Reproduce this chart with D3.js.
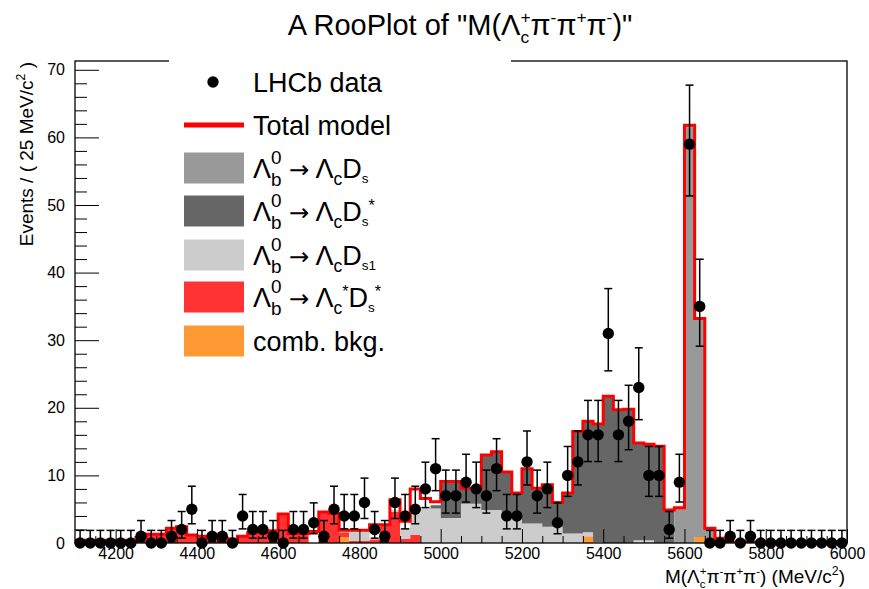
<!DOCTYPE html>
<html><head><meta charset="utf-8">
<script src="https://cdn.jsdelivr.net/npm/d3@7"></script>
<style>
body{margin:0;background:#fff}
svg{display:block}
text{font-family:"Liberation Sans",Arial,Helvetica,sans-serif;white-space:pre}
</style>
</head><body>
<svg id="c" width="869" height="589"></svg>
<script>
// ---------------- data ----------------
const binWidth = 25;
const binLow = d3.range(4100, 6000, binWidth);      // 76 bins, 4100..6000 MeV/c^2

const dataCounts = [
  0,0,0,0,0,0,1,0,0,1,
  2,5,0,1,1,0,4,2,2,1,
  0,2,2,3,1,5,4,4,6,2,
  1,6,4,5,8,11,7,7,9,8,
  7,11,4,4,12,7,8,3,10,12,
  16,16,31,16,18,23,10,10,2,9,
  59,35,0,0,1,0,1,0,0,0,
  0,0,0,0,0,0];

const totalModel = [
  0.4,0.4,0.4,0.4,0.4,0.4,0.8,1.3,1.3,2.2,
  2.4,1.2,1.0,0.7,0.7,0.6,1.0,1.5,1.5,1.8,
  4.3,1.4,1.4,1.7,4.6,4.4,1.9,1.9,1.9,2.7,
  2.7,6.4,3.2,8.0,6.6,6.1,9.1,9.1,8.1,8.1,
  13.0,13.5,10.5,7.4,11.0,8.1,8.6,6.0,7.4,16.5,
  18.0,17.6,21.7,19.7,19.8,14.8,14.6,14.3,4.9,5.2,
  61.8,33.2,2.2,0.7,0.1,0.1,0.1,0.1,0.1,0.1,
  0.1,0.1,0.1,0.1,0.1,0.1];

const combBkg = [
  0,0,0,0,0,0,0,0,0,0,
  0,0,0,0,0,0,0,0,0,0,
  0,0,0,0,0,0,0.9,0,0,0,
  0,0,0,0,0,0,0,0,0,0,
  0,0,0,0,0,0,0,0,0,0,
  1.0,0,0,0,0,0,0,0,0,0,
  0,0.9,0,0,0,0,0,0,0,0,
  0,0,0,0,0,0];

const lcStarDsStar = [
  0.4,0.4,0.4,0.4,0.4,0.4,0.8,1.3,1.3,2.2,
  2.4,1.2,1.0,0.7,0.7,0.6,1.0,1.5,1.5,1.8,
  4.3,1.4,1.4,0,4.6,4.4,0.7,0.3,0.3,0.5,
  2.5,4.6,0.6,1.2,0,0,0,0,0,0,
  0,0,0,0,0,0,0,0,0,0,
  0,0,0,0,0,0,0,0,0,0,
  0,0,0,0,0,0,0,0,0,0,
  0,0,0,0,0,0];

const lcDs1 = [
  0,0,0,0,0,0,0,0,0,0,
  0,0,0,0,0,0,0,0,0,0,
  0,0,0,0,0,0,0.3,1.5,1.5,0,
  0,0.3,1.6,4.0,5.1,5.1,3.7,3.7,5.8,5.8,
  4.9,4.9,3.9,3.9,2.9,2.9,2.4,2.4,1.4,1.4,
  0.6,0.1,0,0,0,0.4,0.4,0,0,0,
  0,0,0,0,0,0,0,0,0,0,
  0,0,0,0,0,0];

const lcDsStar = [
  0,0,0,0,0,0,0,0,0,0,
  0,0,0,0,0,0,0,0,0,0,
  0,0,0,0,0,0,0,0,0,0,
  0,0,0,0,0,0.5,5.4,5.4,2.3,2.3,
  8.1,8.6,6.6,3.5,8.1,5.2,6.2,3.6,6.0,15.1,
  16.4,17.5,21.7,19.7,19.8,14.4,14.2,14.3,4.9,0,
  0,0,0,0,0,0,0,0,0,0,
  0,0,0,0,0,0];

const lcDs = [
  0,0,0,0,0,0,0,0,0,0,
  0,0,0,0,0,0,0,0,0,0,
  0,0,0,0,0,0,0,0,0,0,
  0,0,0,0,0,0,0,0,0,0,
  0,0,0,0,0,0,0,0,0,0,
  0,0,0,0,0,0,0,0,0,5.2,
  61.8,32.3,2.2,0.7,0,0,0,0,0,0,
  0,0,0,0,0,0];

const yMajorTicks = [0,10,20,30,40,50,60,70];
const xMajorTicks = [4200,4400,4600,4800,5000,5200,5400,5600,5800,6000];

// ---------------- setup ----------------
const W = 869, H = 589;
const M = {l:75, r:847, t:61, b:543};
const svg = d3.select("#c");
svg.append("rect").attr("width", W).attr("height", H).attr("fill", "#fff");

const x = d3.scaleLinear().domain([4100, 6000]).range([M.l, M.r]);
const y = d3.scaleLinear().domain([0, 71.3]).range([M.b, M.t]);

svg.append("defs").append("clipPath").attr("id", "clip")
  .append("rect").attr("x", M.l).attr("y", M.t).attr("width", M.r - M.l).attr("height", M.b - M.t);

// ---------------- stacked components ----------------
const keys = ["comb", "lcstar", "ds1", "dsstar", "ds"];
const colors = {comb:"#ff9933", lcstar:"#ff3333", ds1:"#cccccc", dsstar:"#666666", ds:"#999999"};
const rows = binLow.map((b, i) => ({
  comb: combBkg[i], lcstar: lcStarDsStar[i], ds1: lcDs1[i], dsstar: lcDsStar[i], ds: lcDs[i]
}));
const stacked = d3.stack().keys(keys)(rows);
const plot = svg.append("g").attr("clip-path", "url(#clip)");

const areaGen = d3.area().x(p => x(p.x)).y0(p => y(p.y0)).y1(p => y(p.y1)).curve(d3.curveStepAfter);
stacked.forEach(layer => {
  const pts = layer.map((d, i) => ({x: binLow[i], y0: d[0], y1: d[1]}));
  const last = pts[pts.length - 1];
  pts.push({x: last.x + binWidth, y0: last.y0, y1: last.y1});
  plot.append("path").attr("d", areaGen(pts)).attr("fill", colors[layer.key]).attr("stroke", "none");
});

// total model line
const linePts = binLow.map((b, i) => ({x: b, v: totalModel[i]}));
linePts.unshift({x: binLow[0], v: 0});
linePts.push({x: binLow[binLow.length - 1] + binWidth, v: totalModel[totalModel.length - 1]});
plot.append("path")
  .attr("d", d3.line().x(p => x(p.x)).y(p => y(p.v)).curve(d3.curveStepAfter)(linePts))
  .attr("fill", "none").attr("stroke", "#ff0000").attr("stroke-width", 3);

// ---------------- axes ----------------
function styleAxis(g) {
  g.select(".domain").remove();
  g.selectAll(".tick line").attr("stroke", "#000").attr("stroke-width", 1);
  g.selectAll("text").attr("font-size", 16).attr("fill", "#000");
}
svg.append("g").attr("transform", `translate(${M.l},0)`)
  .call(d3.axisLeft(y).tickValues(d3.range(0, 71, 2).filter(v => v % 10 !== 0)).tickSize(-12).tickFormat(""))
  .call(styleAxis);
svg.append("g").attr("transform", `translate(${M.l},0)`)
  .call(d3.axisLeft(y).tickValues(yMajorTicks).tickSize(-24).tickPadding(10).tickFormat(d3.format("d")))
  .call(styleAxis);
svg.append("g").attr("transform", `translate(0,${M.b})`)
  .call(d3.axisBottom(x).tickValues(d3.range(4150, 6000, 50).filter(v => v % 200 !== 0)).tickSize(-7).tickFormat(""))
  .call(styleAxis);
svg.append("g").attr("transform", `translate(0,${M.b})`)
  .call(d3.axisBottom(x).tickValues(xMajorTicks).tickSize(-14).tickPadding(5).tickFormat(d3.format("d")))
  .call(styleAxis);

// frame
svg.append("rect").attr("x", M.l).attr("y", M.t).attr("width", M.r - M.l).attr("height", M.b - M.t)
  .attr("fill", "none").attr("stroke", "#000").attr("stroke-width", 1.3);

// ---------------- data points ----------------
function poisUp(n) { return n + Math.sqrt(n + 0.75) + 1; }
function poisLo(n) { if (n === 0) return 0; const t = 1 - 1/(9*n) - 1/(3*Math.sqrt(n)); return n*t*t*t; }
const pts = svg.append("g");
dataCounts.forEach((n, i) => {
  const cx = x(binLow[i] + binWidth/2);
  const yu = y(poisUp(n)), yl = y(poisLo(n)), yc = y(n);
  pts.append("line").attr("x1", cx).attr("x2", cx).attr("y1", yu).attr("y2", yl).attr("stroke", "#000").attr("stroke-width", 1.5);
  pts.append("line").attr("x1", cx - 4).attr("x2", cx + 4).attr("y1", yu).attr("y2", yu).attr("stroke", "#000").attr("stroke-width", 1.5);
  if (n > 0) pts.append("line").attr("x1", cx - 4).attr("x2", cx + 4).attr("y1", yl).attr("y2", yl).attr("stroke", "#000").attr("stroke-width", 1.5);
  pts.append("circle").attr("cx", cx).attr("cy", yc).attr("r", 5.7).attr("fill", "#000");
});

// ---------------- latex-ish text helper ----------------
function latex(parent, x0, y0, parts, size, anchor, rot) {
  const g = parent.append("g").attr("transform", `translate(${x0},${y0})` + (rot ? ` rotate(${rot})` : ""));
  const inner = g.append("g");
  let cx = 0;
  const mk = (t, dy, fs, fam) => {
    const el = inner.append("text").attr("x", cx).attr("y", dy).attr("font-size", fs).attr("fill", "#000").text(t);
    if (fam) el.style("font-family", fam);
    return el.node().getComputedTextLength();
  };
  parts.forEach(p => {
    if (typeof p === "string") { cx += mk(p, 0, size); }
    else if (p.arrow) { cx += mk(p.arrow, 0, size * (p.scale || 1), "'DejaVu Sans'"); }
    else {
      const ss = size * (p.scale || 0.65);
      let w = 0;
      if (p.sub != null) w = Math.max(w, mk(p.sub, size * (p.subDy != null ? p.subDy : 0.28), ss));
      if (p.sup != null) w = Math.max(w, mk(p.sup, -size * (p.supDy != null ? p.supDy : 0.42), ss));
      cx += w + (p.gap || 0);
    }
  });
  const shift = anchor === "end" ? -cx : anchor === "middle" ? -cx / 2 : 0;
  inner.attr("transform", `translate(${shift},0)`);
  return cx;
}

// ---------------- legend ----------------
const leg = svg.append("g");
leg.append("rect").attr("x", 169).attr("y", 50).attr("width", 342).attr("height", 318).attr("fill", "#fff");
const legFs = 27, legTx = 253;
leg.append("circle").attr("cx", 213).attr("cy", 82).attr("r", 5.7).attr("fill", "#000");
latex(leg, legTx, 92, ["LHCb data"], legFs);
leg.append("line").attr("x1", 184).attr("x2", 244).attr("y1", 125).attr("y2", 125).attr("stroke", "#ff0000").attr("stroke-width", 5);
latex(leg, legTx, 135, ["Total model"], legFs);

const lb = ["Λ", {sub: "b", sup: "0", scale: 0.7, supDy: 0.5, subDy: 0.3}, " ", {arrow: "→", scale: 0.9}, " Λ", {sub: "c", scale: 0.65}];
const legendRows = [
  {key: "ds",     y: 168, parts: lb.concat(["D", {sub: "s", scale: 0.5, subDy: 0.2, gap: 2}])},
  {key: "dsstar", y: 211, parts: lb.concat(["D", {sub: "s", scale: 0.5, subDy: 0.2}, {sup: "*", scale: 0.6, supDy: 0.35}])},
  {key: "ds1",    y: 255, parts: lb.concat(["D", {sub: "s1", scale: 0.5, subDy: 0.2}])},
  {key: "lcstar", y: 297, parts: ["Λ", {sub: "b", sup: "0", scale: 0.7, supDy: 0.5, subDy: 0.3}, " ", {arrow: "→", scale: 0.9}, " Λ", {sub: "c", scale: 0.65}, {sup: "*", scale: 0.6, supDy: 0.35}, "D", {sub: "s", scale: 0.5, subDy: 0.2}, {sup: "*", scale: 0.6, supDy: 0.35}]},
  {key: "comb",   y: 341, parts: ["comb. bkg."]}
];
legendRows.forEach(r => {
  leg.append("rect").attr("x", 184).attr("y", r.y - 15.5).attr("width", 60).attr("height", 31).attr("fill", colors[r.key]);
  latex(leg, legTx, r.y + 9.5, r.parts, legFs);
});

// ---------------- titles ----------------
latex(svg, 460, 35, ['A RooPlot of "M(', "Λ", {sub: "c", sup: "+", scale: 0.6}, "π", {sup: "-", scale: 0.6}, "π", {sup: "+", scale: 0.6}, "π", {sup: "-", scale: 0.6}, ')"'], 29, "middle");
latex(svg, 845, 583, ["M(Λ", {sub: "c", sup: "+", scale: 0.6}, "π", {sup: "-", scale: 0.6}, "π", {sup: "+", scale: 0.6}, "π", {sup: "-", scale: 0.6}, ") (MeV/c", {sup: "2", scale: 0.65}, ")"], 19, "end");
latex(svg, 33, 62, ["Events / ( 25 MeV/c", {sup: "2", scale: 0.65}, " )"], 19, "end", -90);
</script>
</body></html>
